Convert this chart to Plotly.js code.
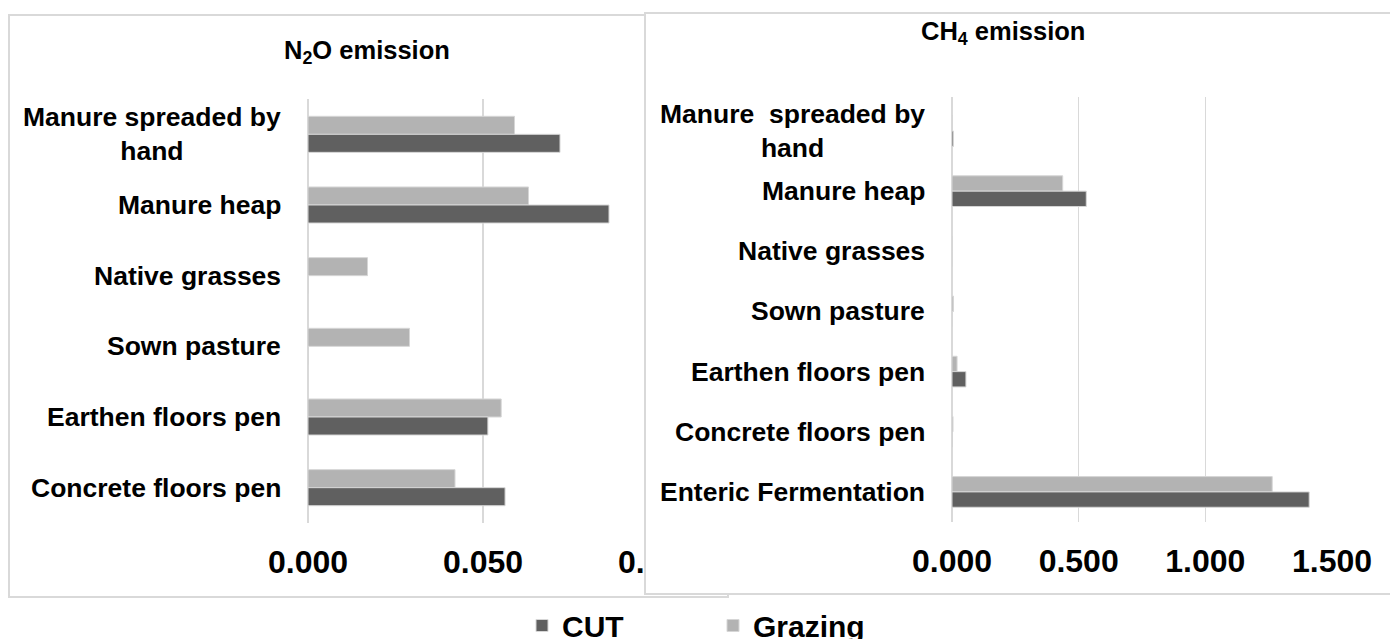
<!DOCTYPE html>
<html><head><meta charset="utf-8">
<script src="https://cdn.plot.ly/plotly-3.0.1.min.js"></script>
<style>
html,body{margin:0;padding:0;background:#fff;}
#wrap{position:relative;width:1390px;height:639px;overflow:hidden;background:#fff;}
#n2o{position:absolute;left:0;top:0;width:1390px;height:639px;}
#ch4{position:absolute;left:644px;top:0;width:746px;height:595px;}
</style></head><body>
<div id="wrap"><div id="n2o"></div><div id="ch4"></div></div>
<script>
// ---------- data ----------
const seriesNames = ["CUT", "Grazing"];

const n2oCategories = ["Manure spreaded by hand", "Manure heap", "Native grasses", "Sown pasture", "Earthen floors pen", "Concrete floors pen"];
const n2oLabels = ["Manure spreaded by<br>hand", "Manure heap", "Native grasses", "Sown pasture", "Earthen floors pen", "Concrete floors pen"];
const n2oCut = [0.072, 0.086, 0, 0, 0.0514, 0.0563];
const n2oGrazing = [0.059, 0.063, 0.017, 0.029, 0.0552, 0.042];
const n2oTicks = [0, 0.05, 0.1];

const ch4Categories = ["Manure spreaded by hand", "Manure heap", "Native grasses", "Sown pasture", "Earthen floors pen", "Concrete floors pen", "Enteric Fermentation"];
const ch4Labels = ["Manure \u00a0spreaded by<br>hand", "Manure heap", "Native grasses", "Sown pasture", "Earthen floors pen", "Concrete floors pen", "Enteric Fermentation"];
const ch4Cut = [0.006, 0.53, 0, 0, 0.055, 0.001, 1.41];
const ch4Grazing = [0.002, 0.437, 0, 0.006, 0.02, 0.004, 1.264];
const ch4Ticks = [0, 0.5, 1.0, 1.5];

// ---------- style ----------
const FONT = "Liberation Sans, Arial, Helvetica, sans-serif";
const CUT_COLOR = "#606060";
const GRAZ_COLOR = "#b3b3b3";
const GRID = "#d9d9d9";
const FRAME = "#d9d9d9";

function makePanel(el, W, H, m, cats, labels, cut, graz, range, ticks, title, titlePx, frame, showLegend) {
  const pw = W - m.l - m.r, ph = H - m.t - m.b;
  const px2x = p => (p - m.l) / pw;
  const px2y = p => (H - m.b - p) / ph;
  const barLine = {color: "#d6d6d6", width: 1};
  const traces = [
    {type: "bar", orientation: "h", name: seriesNames[1], y: cats, x: graz,
     marker: {color: GRAZ_COLOR, line: barLine}, legendrank: 2, showlegend: showLegend},
    {type: "bar", orientation: "h", name: seriesNames[0], y: cats, x: cut,
     marker: {color: CUT_COLOR, line: barLine}, legendrank: 1, showlegend: showLegend}
  ];
  const annotations = cats.map((c, i) => ({
    xref: "x domain", x: 0, xanchor: "right", xshift: -25,
    yref: "y", y: c, yanchor: "middle", align: "center",
    text: labels[i], showarrow: false,
    font: {family: FONT, size: 26.5, color: "#000", weight: 700}
  }));
  annotations.push({
    xref: "paper", x: px2x(titlePx[0]), xanchor: "center",
    yref: "paper", y: px2y(titlePx[1]), yanchor: "middle",
    text: title, showarrow: false,
    font: {family: FONT, size: 25.5, color: "#000", weight: 700}
  });
  const layout = {
    width: W, height: H,
    margin: Object.assign({autoexpand: false, pad: 0}, m),
    paper_bgcolor: "#fff", plot_bgcolor: "rgba(0,0,0,0)",
    barmode: "group", bargap: 0.49, bargroupgap: 0,
    showlegend: showLegend,
    xaxis: {
      range: range, tickvals: ticks, tickformat: ".3f",
      showgrid: true, gridcolor: GRID, gridwidth: 1.5,
      zeroline: true, zerolinecolor: GRID, zerolinewidth: 1.5,
      showline: false, ticks: "outside", ticklen: 11, tickcolor: "rgba(0,0,0,0)",
      tickfont: {family: FONT, size: 32, color: "#000", weight: 700},
      automargin: false, fixedrange: true
    },
    yaxis: {
      type: "category", categoryorder: "array", categoryarray: cats,
      autorange: "reversed", showgrid: false, zeroline: false,
      showticklabels: false, showline: false, automargin: false, fixedrange: true
    },
    annotations: annotations,
    shapes: [{
      type: "rect", xref: "paper", yref: "paper",
      x0: px2x(frame[0]), x1: px2x(frame[1]), y0: px2y(frame[2]), y1: px2y(frame[3]),
      line: {color: FRAME, width: 2}, fillcolor: "rgba(0,0,0,0)", layer: "below"
    }],
    legend: {
      orientation: "h", xref: "paper", yref: "paper",
      x: px2x(522), xanchor: "left", y: px2y(625.5), yanchor: "middle",
      font: {family: FONT, size: 30, color: "#000", weight: 700},
      entrywidth: 146, entrywidthmode: "pixels",
      bgcolor: "rgba(0,0,0,0)"
    }
  };
  Plotly.newPlot(el, traces, layout, {staticPlot: true, displayModeBar: false});
}

// Left panel (N2O): its plot area runs on under the CH4 panel (0.100 sits at x=658, hidden)
makePanel("n2o", 1390, 639, {l: 308, r: 82, t: 99, b: 116},
  n2oCategories, n2oLabels, n2oCut, n2oGrazing, [0, 0.1 * 1000 / 350], n2oTicks,
  "N<sub>2</sub>O emission", [367, 52], [9, 728, 597, 15], true);

// Right panel (CH4)
makePanel("ch4", 746, 595, {l: 308, r: 58, t: 97, b: 73},
  ch4Categories, ch4Labels, ch4Cut, ch4Grazing, [0, 1.5], ch4Ticks,
  "CH<sub>4</sub> emission", [359, 33], [1, 800, 594, 13], false);
</script>
</body></html>
